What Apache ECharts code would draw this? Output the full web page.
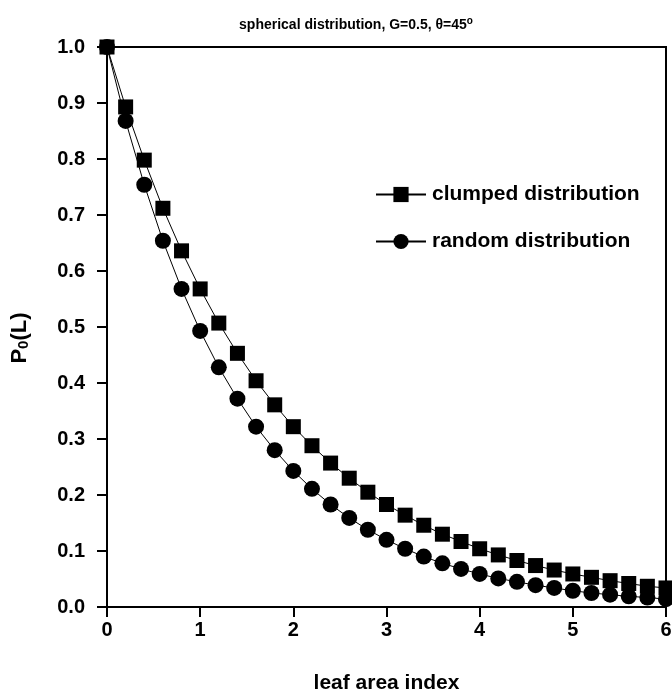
<!DOCTYPE html>
<html>
<head>
<meta charset="utf-8">
<script src="https://cdn.jsdelivr.net/npm/echarts@6/dist/echarts.min.js"></script>
<style>
  html, body { margin: 0; padding: 0; background: #fff; }
  #chart { width: 672px; height: 694px; }
</style>
</head>
<body>
<div id="chart"></div>
<script>
// Leaf area index sample points
const lai = [0, 0.2, 0.4, 0.6, 0.8, 1.0, 1.2, 1.4, 1.6, 1.8, 2.0, 2.2, 2.4, 2.6, 2.8, 3.0,
             3.2, 3.4, 3.6, 3.8, 4.0, 4.2, 4.4, 4.6, 4.8, 5.0, 5.2, 5.4, 5.6, 5.8, 6.0];

// Gap probability P0(L), clumped foliage
const clumped = [1.000, 0.893, 0.798, 0.712, 0.636, 0.568, 0.507, 0.453, 0.404, 0.361, 0.322,
                 0.288, 0.257, 0.230, 0.205, 0.183, 0.164, 0.146, 0.130, 0.117, 0.104,
                 0.093, 0.083, 0.074, 0.066, 0.059, 0.053, 0.047, 0.042, 0.037, 0.034];

// Gap probability P0(L), randomly distributed foliage
const random = [1.000, 0.868, 0.754, 0.654, 0.568, 0.493, 0.428, 0.372, 0.322, 0.280, 0.243,
                0.211, 0.183, 0.159, 0.138, 0.120, 0.104, 0.090, 0.078, 0.068, 0.059,
                0.051, 0.045, 0.039, 0.034, 0.029, 0.025, 0.022, 0.019, 0.017, 0.014];

const seriesNames = ['clumped distribution', 'random distribution'];

const FONT = '"Liberation Sans", Arial, sans-serif';
const BIG = 20;

const chart = echarts.init(document.getElementById('chart'), null, { renderer: 'canvas' });

function pairs(ys) { return lai.map((x, i) => [x, ys[i]]); }

chart.setOption({
  animation: false,
  backgroundColor: '#fff',
  title: {
    text: 'spherical distribution, G=0.5, θ=45{sup|o}',
    left: 351,
    textAlign: 'center',
    top: 11,
    textStyle: {
      fontFamily: FONT, fontWeight: 'bold', fontSize: 14, color: '#000',
      rich: {
        sup: { fontFamily: FONT, fontWeight: 'bold', fontSize: 10, color: '#000', verticalAlign: 'top', padding: [0, 0, 8, 0] }
      }
    }
  },
  legend: {
    orient: 'vertical',
    left: 370,
    top: 179,
    itemGap: 26,
    itemWidth: 50,
    itemHeight: 19,
    data: seriesNames,
    textStyle: { fontFamily: FONT, fontWeight: 'bold', fontSize: 21, color: '#000', padding: [0, 0, 0, 1] }
  },
  grid: {
    left: 107, right: 6, top: 47, bottom: 87,
    outerBoundsMode: 'none',
    containLabel: false,
    show: true, borderColor: '#000', borderWidth: 2, backgroundColor: 'transparent'
  },
  xAxis: {
    type: 'value', min: 0, max: 6, interval: 1,
    name: 'leaf area index',
    nameLocation: 'middle', nameGap: 66,
    nameTextStyle: { fontFamily: FONT, fontWeight: 'bold', fontSize: 21, color: '#000' },
    axisLine: { show: true, lineStyle: { color: '#000', width: 2 } },
    axisTick: { show: true, length: 10, lineStyle: { color: '#000', width: 2 } },
    axisLabel: { fontFamily: FONT, fontWeight: 'bold', fontSize: BIG, color: '#000', margin: 13 },
    splitLine: { show: false }
  },
  yAxis: {
    type: 'value', min: 0, max: 1, interval: 0.1,
    name: 'P{sub|0}(L)',
    nameLocation: 'middle', nameGap: 76, nameRotate: 90,
    nameTextStyle: {
      fontFamily: FONT, fontWeight: 'bold', fontSize: 22, color: '#000',
      padding: [0, 22, 0, 0],
      rich: {
        sub: { fontFamily: FONT, fontWeight: 'bold', fontSize: 15, color: '#000', verticalAlign: 'bottom', padding: [8, 0, 0, 0] }
      }
    },
    axisLine: { show: true, lineStyle: { color: '#000', width: 2 } },
    axisTick: { show: true, length: 10, lineStyle: { color: '#000', width: 2 } },
    axisLabel: {
      fontFamily: FONT, fontWeight: 'bold', fontSize: BIG, color: '#000', margin: 22,
      formatter: v => v.toFixed(1)
    },
    splitLine: { show: false }
  },
  series: [
    {
      name: seriesNames[0],
      type: 'line',
      data: pairs(clumped),
      symbol: 'rect',
      symbolSize: 15,
      showAllSymbol: true,
      clip: false,
      itemStyle: { color: '#000' },
      lineStyle: { color: '#000', width: 1 },
      z: 3
    },
    {
      name: seriesNames[1],
      type: 'line',
      data: pairs(random),
      symbol: 'circle',
      symbolSize: 16,
      showAllSymbol: true,
      clip: false,
      itemStyle: { color: '#000' },
      lineStyle: { color: '#000', width: 1 },
      z: 2
    }
  ]
});
</script>
</body>
</html>
